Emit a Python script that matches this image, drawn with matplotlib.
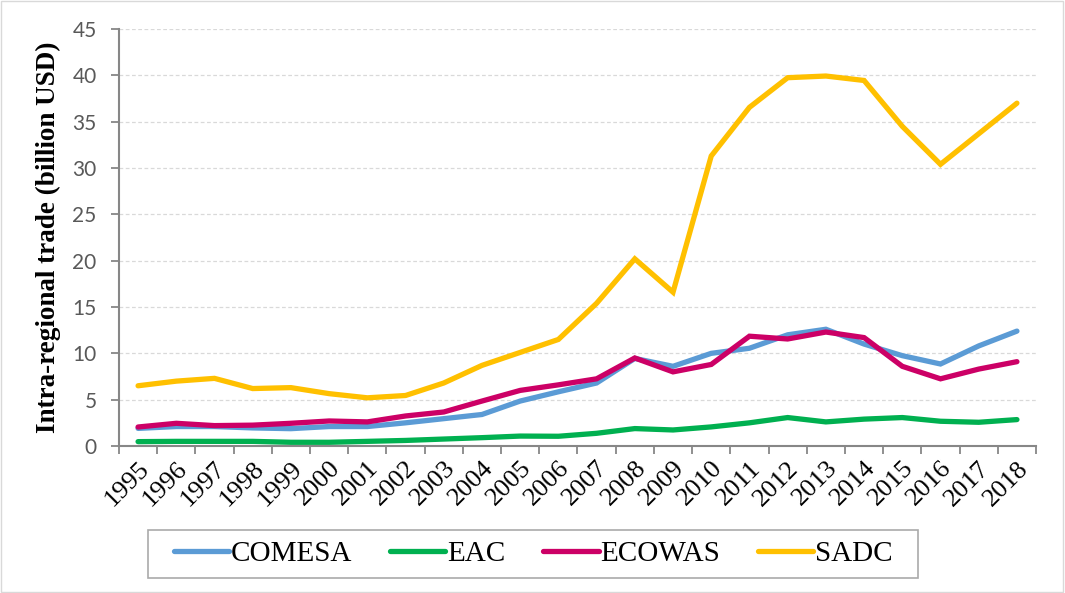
import matplotlib.pyplot as plt
from matplotlib.patches import Rectangle

years = list(range(1995, 2019))
comesa = [1.9, 2.1, 2.1, 1.95, 1.87, 2.1, 2.1, 2.5, 2.95, 3.4, 4.85, 5.85, 6.8, 9.45, 8.6,
          10.0, 10.55, 12.0, 12.6, 11.0, 9.75, 8.85, 10.8, 12.4]
eac = [0.47, 0.5, 0.5, 0.5, 0.4, 0.4, 0.5, 0.6, 0.75, 0.9, 1.07, 1.05, 1.37, 1.88, 1.73,
       2.06, 2.5, 3.07, 2.6, 2.9, 3.07, 2.67, 2.56, 2.85]
ecowas = [2.05, 2.45, 2.2, 2.25, 2.45, 2.7, 2.6, 3.24, 3.67, 4.85, 6.0, 6.6, 7.25, 9.5, 8.0,
          8.8, 11.85, 11.55, 12.3, 11.7, 8.6, 7.25, 8.3, 9.1]
sadc = [6.5, 7.0, 7.3, 6.2, 6.3, 5.65, 5.2, 5.45, 6.8, 8.7, 10.1, 11.5, 15.4, 20.2, 16.6,
        31.3, 36.55, 39.75, 39.93, 39.45, 34.5, 30.4, 33.7, 37.0]

series = [("COMESA", comesa, "#5B9BD5"),
          ("EAC", eac, "#00B050"),
          ("ECOWAS", ecowas, "#CC0066"),
          ("SADC", sadc, "#FFC000")]

fig = plt.figure(figsize=(10.65, 5.93), dpi=100)
ax = fig.add_axes([0.1117, 0.2479, 0.8611, 0.7031])

x = list(range(len(years)))
for name, vals, col in series:
    ax.plot(x, vals, color=col, lw=3.8, label=name, solid_capstyle='round', solid_joinstyle='miter')

ax.set_xlim(-0.5, len(years) - 0.5)
ax.set_ylim(0, 45)
ax.set_yticks(range(0, 46, 5))
ax.yaxis.grid(True, color='#D9D9D9', ls=(0, (3, 2)), lw=0.9)
ax.set_axisbelow(True)

ax.set_xticks([i - 0.5 for i in range(len(years) + 1)])
ax.set_xticklabels([])
ax.set_xticks(x, minor=True)
ax.set_xticklabels([str(y) for y in years], minor=True, rotation=45, ha='right',
                   rotation_mode='anchor', fontfamily='Liberation Serif', fontsize=19)
ax.tick_params(axis='x', which='major', length=6, color='#878787', width=1.3)
ax.tick_params(axis='x', which='minor', length=0, pad=8)
ax.tick_params(axis='y', length=6, color='#878787', width=1.3, labelsize=15,
               labelcolor='#595959', pad=10)
for lbl in ax.get_yticklabels():
    lbl.set_fontfamily('Lato')

for s in ['top', 'right']:
    ax.spines[s].set_visible(False)
for s in ['left', 'bottom']:
    ax.spines[s].set_color('#878787')
    ax.spines[s].set_linewidth(1.5)

ax.set_ylabel("Intra-regional trade (billion USD)", fontfamily='Liberation Serif',
              fontweight='bold', fontsize=19.5, labelpad=8)

# legend box drawn separately so side padding can be wider than vertical padding
W, H = 1065, 593
fig.patches.append(Rectangle((148 / W, 1 - 578 / H), 770 / W, 48 / H, transform=fig.transFigure,
                             fill=False, edgecolor='#AAAAAA', lw=1.2))
fig.legend(loc='center', bbox_to_anchor=(0.5005, 0.0658), ncol=4, frameon=False,
           handlelength=1.9, handletextpad=0.05, columnspacing=1.3,
           prop={'family': 'Liberation Serif', 'size': 21}, borderpad=0.35, borderaxespad=0)

fig.patches.append(Rectangle((0.001, 0.001), 0.997, 0.997, transform=fig.transFigure,
                             fill=False, edgecolor='#D9D9D9', lw=1))

fig.savefig('out.png', dpi=100)
